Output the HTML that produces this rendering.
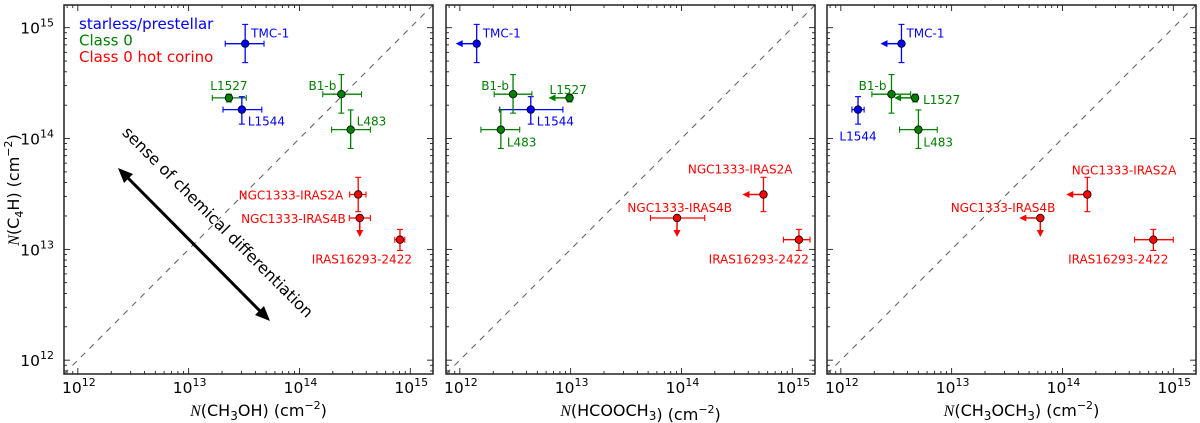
<!DOCTYPE html>
<html><head><meta charset="utf-8">
<style>
html,body{margin:0;padding:0;background:#fff;}
svg{display:block;font-family:"DejaVu Sans","Liberation Sans",sans-serif;}
</style></head>
<body>
<svg id="chart" width="1200" height="423" viewBox="0 0 1200 423" xmlns="http://www.w3.org/2000/svg"></svg>
<script>
// ---- data (log10 column densities) ----
const sourceNames = ["TMC-1","L1527","L1544","B1-b","L483","NGC1333-IRAS2A","NGC1333-IRAS4B","IRAS16293-2422"];
const sourceClass = ["starless","class0","starless","class0","class0","hotcorino","hotcorino","hotcorino"];
// y: N(C4H)
const c4hVal = [14.856,14.367,14.261,14.40,14.08,13.495,13.283,13.087];
const c4hLo  = [14.685,14.33,14.13,14.229,13.91,13.34,null,12.99];
const c4hHi  = [15.03,14.40,14.378,14.577,14.258,13.65,null,13.18];
const c4hUpper = [false,false,false,false,false,false,true,false];
// panel 1: CH3OH
const ch3ohVal = [13.51,13.363,13.48,14.378,14.462,14.53,14.544,14.907];
const ch3ohLo  = [13.33,13.213,13.31,14.21,14.29,14.453,14.45,14.86];
const ch3ohHi  = [13.68,13.52,13.66,14.56,14.64,14.60,14.64,14.95];
const ch3ohUpper = [false,false,false,false,false,false,false,false];
// panel 2: HCOOCH3
const hcoVal = [12.152,12.99,12.64,12.48,12.37,14.74,13.96,15.06];
const hcoLo  = [null,null,12.36,12.31,12.19,null,13.72,14.92];
const hcoHi  = [null,null,12.93,12.65,12.54,null,14.21,15.16];
const hcoUpper = [true,true,false,false,false,true,false,false];
// panel 3: CH3OCH3
const dmeVal = [12.547,12.67,12.155,12.457,12.70,14.224,13.80,14.82];
const dmeLo  = [null,null,12.10,12.28,12.53,null,null,14.65];
const dmeHi  = [null,null,12.21,12.63,12.87,null,null,15.0];
const dmeUpper = [true,true,false,false,false,true,true,false];
const tickExps = [12,13,14,15];
const legendLabels = ["starless/prestellar","Class 0","Class 0 hot corino"];

const colors = {starless:"#0000ff", class0:"#007f00", hotcorino:"#ff0000"};
const LOGMIN = 11.875, LOGMAX = 15.205, PW = 369, PT = 5;
const panels = [
  {left:64, x:[ch3ohVal,ch3ohLo,ch3ohHi,ch3ohUpper], title:["CH","3","OH"], name:"ch3oh",
   lab:[[6,-6,"start"],[0,-8,"middle"],[6,16,"start"],[-5,-4,"end"],[6,-4,"start"],[-15,5,"end"],[-14,5,"end"],[12,24,"end"]]},
  {left:446, x:[hcoVal,hcoLo,hcoHi,hcoUpper], title:["HCOOCH","3",""], name:"hcooch3",
   lab:[[6,-6,"start"],[-20,-4,"start"],[6,16,"start"],[-4,-4,"end"],[6,17,"start"],[29,-21,"end"],[55,-6,"end"],[10,24,"end"]]},
  {left:827, x:[dmeVal,dmeLo,dmeHi,dmeUpper], title:["CH","3","OCH"], title2:"3", name:"ch3och3",
   lab:[[5,-6,"start"],[8,6,"start"],[0,31,"middle"],[-5,-4,"end"],[5,17,"start"],[89,-20,"end"],[15,-6,"end"],[15,24,"end"]]}
];

const svg = document.getElementById('chart');
const NS = "http://www.w3.org/2000/svg";
function mk(tag, attrs, parent){const e=document.createElementNS(NS,tag);for(const k in attrs)e.setAttribute(k,attrs[k]);(parent||svg).appendChild(e);return e;}

panels.forEach((p,pi)=>{
  const sx = v => p.left + (v-LOGMIN)/(LOGMAX-LOGMIN)*PW;
  const sy = v => PT + (LOGMAX-v)/(LOGMAX-LOGMIN)*PW;
  const g = mk('g',{});
  
  
  const cp = mk('clipPath',{id:'clip'+pi},g); mk('rect',{x:p.left,y:PT,width:PW,height:PW},cp);
  const diag = mk('line',{x1:sx(LOGMIN),y1:sy(LOGMIN),x2:sx(LOGMAX),y2:sy(LOGMAX),stroke:'#666','stroke-width':1.1,'stroke-dasharray':'6,6','clip-path':'url(#clip'+pi+')'},g);
  
  
  for(let d=11; d<=15; d++){
    for(let m=1;m<=9;m++){
      const v = d+Math.log10(m);
      if(v<LOGMIN||v>LOGMAX) continue;
      const L = m===1?6:3;
      const X=sx(v), Y=sy(v);
      mk('line',{x1:X,y1:PT+PW,x2:X,y2:PT+PW-L,stroke:'#000','stroke-width':0.8},g);
      mk('line',{x1:X,y1:PT,x2:X,y2:PT+L,stroke:'#000','stroke-width':0.8},g);
      mk('line',{x1:p.left,y1:Y,x2:p.left+L,y2:Y,stroke:'#000','stroke-width':0.8},g);
      mk('line',{x1:p.left+PW,y1:Y,x2:p.left+PW-L,y2:Y,stroke:'#000','stroke-width':0.8},g);
    }
  }
  tickExps.forEach(e=>{
    const t = mk('text',{x:sx(e)+1,y:393,'font-size':15.5,'text-anchor':'middle'},g);
    
    
    t.innerHTML = '10<tspan dy="-7" font-size="11">'+e+'</tspan>';
    if(pi===0){
      const ty = mk('text',{x:54,y:sy(e)+6,'font-size':15.5,'text-anchor':'end'},g);
      
      
      ty.innerHTML = '10<tspan dy="-7" font-size="11">'+e+'</tspan>';
    }
  });
  const fr = mk('rect',{x:p.left,y:PT,width:PW,height:PW,fill:'none',stroke:'#222','stroke-width':1.5},g);
  
  
  const xt = mk('text',{x:p.left+PW/2+10,y:416,'font-size':16,'text-anchor':'middle'},g);
  
  
  xt.innerHTML = '<tspan font-family="Liberation Serif,serif" font-style="italic">N</tspan>('+p.title[0]+'<tspan dy="4" font-size="12">'+p.title[1]+'</tspan><tspan dy="-4">'+p.title[2]+'</tspan>'+(p.title2?'<tspan dy="4" font-size="12">3</tspan><tspan dy="-4">)</tspan>':')')+' (cm<tspan dy="-7" font-size="11">−2</tspan><tspan dy="7">)</tspan>';
  const [xv,xlo,xhi,xup] = p.x;
  sourceNames.forEach((nm,i)=>{
    const col = colors[sourceClass[i]];
    const pg = mk('g',{},g);
    
    
    const X=sx(xv[i]), Y=sy(c4hVal[i]);
    if(xlo[i]!==null){
      mk('line',{x1:sx(xlo[i]),y1:Y,x2:sx(xhi[i]),y2:Y,stroke:col,'stroke-width':1.3},pg);
      [xlo[i],xhi[i]].forEach(v=>mk('line',{x1:sx(v),y1:Y-3,x2:sx(v),y2:Y+3,stroke:col,'stroke-width':1.1},pg));
    }
    if(xup[i]){
      mk('line',{x1:X,y1:Y,x2:X-15,y2:Y,stroke:col,'stroke-width':1.5},pg);
      mk('polygon',{points:(X-21)+','+Y+' '+(X-14)+','+(Y-3.5)+' '+(X-14)+','+(Y+3.5),fill:col},pg);
    }
    if(c4hLo[i]!==null){
      mk('line',{x1:X,y1:sy(c4hLo[i]),x2:X,y2:sy(c4hHi[i]),stroke:col,'stroke-width':1.3},pg);
      [c4hLo[i],c4hHi[i]].forEach(v=>mk('line',{x1:X-3,y1:sy(v),x2:X+3,y2:sy(v),stroke:col,'stroke-width':1.1},pg));
    }
    if(c4hUpper[i]){
      mk('line',{x1:X,y1:Y,x2:X,y2:Y+13,stroke:col,'stroke-width':1.5},pg);
      mk('polygon',{points:X+','+(Y+19)+' '+(X-3.5)+','+(Y+12)+' '+(X+3.5)+','+(Y+12),fill:col},pg);
    }
    mk('circle',{cx:X,cy:Y,r:3.8,fill:col,stroke:'#000','stroke-width':0.8},pg);
    const lb = p.lab[i];
    const t = mk('text',{x:X+lb[0],y:Y+lb[1],'font-size':12,fill:col,'text-anchor':lb[2]},pg);
    
    
    t.textContent = nm;
  });
});

const yt = mk('text',{x:0,y:0,'font-size':16,'text-anchor':'middle',transform:'translate(19,190) rotate(-90)'});


yt.innerHTML = '<tspan font-family="Liberation Serif,serif" font-style="italic">N</tspan>(C<tspan dy="4" font-size="11">4</tspan><tspan dy="-4">H) (cm</tspan><tspan dy="-7" font-size="11">−2</tspan><tspan dy="7">)</tspan>';

const legCols = [colors.starless, colors.class0, colors.hotcorino];
legendLabels.forEach((s,i)=>{
  const t = mk('text',{x:79,y:29+i*16.5,'font-size':15,fill:legCols[i]});
  
  
  t.textContent = s;
});

const ag = mk('g',{});


mk('line',{x1:127,y1:177,x2:261,y2:312,stroke:'#000','stroke-width':3},ag);
mk('polygon',{points:'118,168 133,174 124,183',fill:'#000'},ag);
mk('polygon',{points:'270,321 255,315 264,306',fill:'#000'},ag);
const at = mk('text',{x:0,y:0,'font-size':16,'text-anchor':'middle',transform:'translate(214,226) rotate(45)'});


at.textContent = 'sense of chemical differentiation';
</script>
</body></html>
